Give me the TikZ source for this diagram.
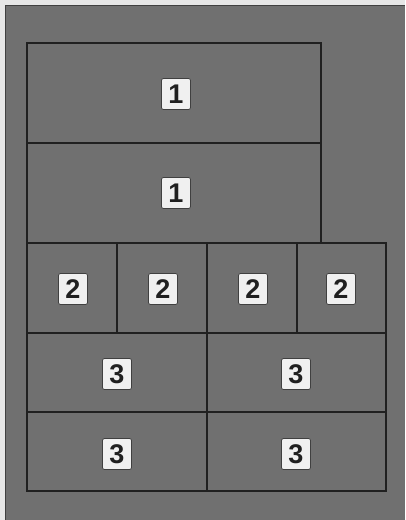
\documentclass[tikz,border=0pt]{standalone}
\usepackage{fontspec}
\setmainfont{Liberation Sans}
\definecolor{bg}{HTML}{707070}
\definecolor{edge}{HTML}{202020}
\definecolor{lab}{HTML}{F0F0F0}
\definecolor{labedge}{HTML}{404040}
\definecolor{strip}{HTML}{E6E6E6}
\begin{document}
\begin{tikzpicture}[x=1pt,y=-1pt,
  cell/.style={draw=edge,line width=1.3pt},
  tag/.style={fill=lab,draw=labedge,line width=0.8pt,rounded corners=2pt,
    minimum width=29pt,minimum height=31pt,inner sep=0pt,
    font=\fontsize{27}{27}\selectfont\bfseries,text=edge}]
\useasboundingbox (0,0) rectangle (405,520);
\fill[strip] (0,0) rectangle (405,520);
\fill[bg] (5,5) rectangle (405,520);
\draw[labedge,line width=1pt] (5.5,520) -- (5.5,5.5) -- (405,5.5);
% row 1
\draw[cell] (27,43) rectangle (321,143);
\draw[cell] (27,143) rectangle (321,243);
% row 2
\draw[cell] (27,243) rectangle (117,333);
\draw[cell] (117,243) rectangle (207,333);
\draw[cell] (207,243) rectangle (297,333);
\draw[cell] (297,243) rectangle (386,333);
% row 3
\draw[cell] (27,333) rectangle (207,412);
\draw[cell] (207,333) rectangle (386,412);
\draw[cell] (27,412) rectangle (207,491);
\draw[cell] (207,412) rectangle (386,491);
% labels
\node[tag] (a1) at (176,94) {1};
\node[tag] (a2) at (176,193) {1};
\node[tag] (b1) at (73,289) {2};
\node[tag] (b2) at (163,289) {2};
\node[tag] (b3) at (253,289) {2};
\node[tag] (b4) at (341,289) {2};
\node[tag] (c1) at (117,374) {3};
\node[tag] (c2) at (296,374) {3};
\node[tag] (c3) at (117,454) {3};
\node[tag] (c4) at (296,454) {3};
\end{tikzpicture}
\end{document}
